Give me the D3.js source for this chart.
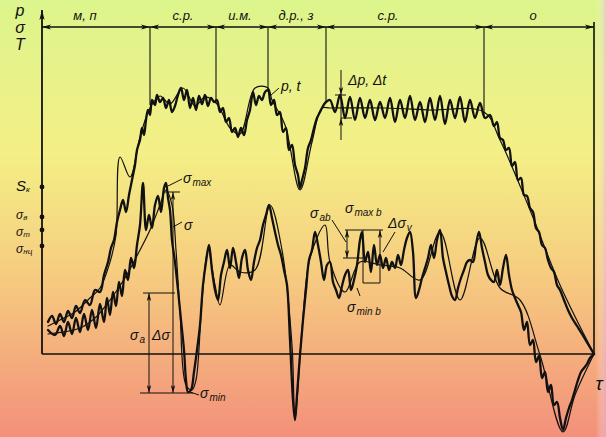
<!DOCTYPE html>
<html>
<head>
<meta charset="utf-8">
<script src="https://cdn.jsdelivr.net/npm/d3@7"></script>
<style>
  body { margin: 0; }
  svg { display: block; }
  text { font-family: "Liberation Sans", Arial, sans-serif; font-style: italic; fill: #111; }
</style>
</head>
<body>
<div id="chart"></div>
<script>
// ---- data (tau, value) ----
const phaseBounds = [0, 108, 174, 226, 284, 442, 552];
const phaseLabels = ['м, п', 'с.р.', 'и.м.', 'д.р., з', 'с.р.', 'о'];
const phaseLabelAt = [43, 141, 198, 254, 346, 491];
const phaseLineEnd = [null, 249, 251, 262, 251, 236, 0];

const levelNames = ['S', 'σ', 'σ', 'σ'];
const levelSubs = ['к', 'в', 'т', 'нц'];
const levelValues = [167, 137, 124, 108];

// p, t curve (thick pen)
const pMain = [[6,32],[10,38],[14,30],[18,40],[22,32],[26,43],[30,36],[34,48],[38,41],[43,54],[48,49],[53,64],[58,62],
  [62,79],[66,92],[69,106],[72,114],[75,132],[78,144],[81,154],[84,142],[87,159],[90,174],[93,189],[95,204],[98,214],
  [100,226],[102,219],[104,234],[106,244],[108,239],[110,254],[113,249],[115,259],[118,252],[121,256],[124,246],[127,254],
  [130,242],[133,248],[136,259],[139,266],[142,254],[145,264],[148,246],[151,256],[154,244],[157,258],[160,250],[163,259],
  [166,248],[169,256],[172,252],[175,254],[178,242],[181,246],[184,232],[187,236],[190,222],[193,226],[196,217],[199,226],
  [202,219],[205,234],[208,244],[211,262],[214,249],[217,258],[220,254],[223,262],[226,264],[229,249],[232,254],[235,239],
  [238,242],[241,222],[244,226],[247,204],[250,209],[253,189],[256,179],[258,166],[260,174],[263,186],[266,206],[269,214],
  [272,226],[275,236],[278,242],[281,248],[284,252],[288,254],[293,242],[298,259],[303,236],[308,257],[313,234],[318,256],
  [323,236],[328,254],[333,234],[338,252],[343,236],[348,256],[353,232],[358,254],[363,236],[368,258],[373,234],[378,252],
  [383,232],[388,256],[393,234],[398,258],[403,230],[408,254],[413,236],[418,257],[423,232],[428,254],[433,236],[438,251],
  [443,236],[448,239],[452,228],[455,232],[458,216],[461,214],[464,204],[467,206],[470,188],[473,192],[476,174],[479,176],
  [482,159],[485,158],[488,146],[491,142],[494,126],[497,122],[500,109],[503,106],[506,94],[509,86],[512,82],[515,69],
  [518,64],[522,54],[526,44],[530,36],[535,28],[540,20],[546,10],[552,0]];

// p, t curve (thin pen)
const pAlt = [[6,28],[18,34],[33,42],[48,56],[58,66],[68,92],[74,119],[78,197],[88,177],[98,217],[108,246],[118,258],
  [128,250],[141,266],[153,248],[163,257],[175,250],[188,226],[198,220],[213,266],[226,266],[230,254],[243,229],[258,164],
  [270,212],[280,246],[288,246],[343,246],[388,244],[442,242],[458,214],[488,144],[518,69],[552,0]];

// sigma curve (thick pen)
const sMain = [[6,24],[13,19],[18,28],[22,18],[26,32],[30,20],[34,36],[38,22],[42,40],[46,24],[50,44],[54,26],[58,50],
  [62,32],[65,56],[68,39],[71,62],[74,48],[77,72],[80,58],[83,84],[86,74],[89,96],[92,86],[95,109],[98,129],[101,171],
  [104,124],[107,139],[110,126],[113,149],[116,158],[119,142],[122,166],[124,171],[126,156],[128,144],[130,114],[133,92],
  [136,64],[139,34],[142,4],[144,-26],[146,-38],[149,-36],[152,-18],[155,4],[158,29],[161,69],[164,92],[167,109],[170,84],
  [173,64],[176,54],[179,79],[182,92],[185,104],[188,86],[191,106],[194,92],[197,76],[200,96],[203,104],[206,84],[209,74],
  [212,92],[215,106],[218,114],[221,129],[224,139],[227,149],[230,136],[233,122],[236,109],[239,99],[242,84],[245,69],
  [248,14],[251,-46],[253,-66],[255,-41],[258,-1],[261,34],[264,64],[267,94],[270,104],[273,122],[276,109],[279,92],
  [282,74],[285,89],[288,92],[291,72],[294,64],[297,56],[300,68],[303,79],[306,84],[309,64],[312,74],[315,89],[318,114],
  [320,122],[323,92],[326,102],[329,82],[332,109],[335,89],[338,99],[341,86],[344,96],[347,84],[350,92],[353,86],[356,99],
  [359,89],[362,104],[365,116],[368,122],[371,102],[374,56],[377,64],[380,76],[383,86],[386,96],[389,109],[392,96],
  [395,114],[398,124],[401,96],[404,82],[407,69],[410,58],[413,54],[416,66],[419,76],[422,84],[425,92],[428,94],[431,92],
  [434,109],[437,122],[440,106],[443,92],[446,79],[449,74],[452,72],[455,84],[458,69],[461,86],[464,99],[467,79],[470,64],
  [473,56],[476,49],[479,42],[482,24],[485,32],[488,9],[491,14],[494,-8],[497,-2],[500,-24],[503,-18],[506,-38],[509,-31],
  [512,-51],[515,-48],[518,-64],[521,-76],[524,-64],[527,-54],[530,-46],[533,-36],[536,-26],[539,-18],[542,-14],[545,-10],
  [548,-4],[552,0]];

// sigma curve (thin pen)
const sAlt = [[6,20],[38,26],[53,36],[68,54],[83,76],[98,104],[108,124],[118,149],[124,164],[130,149],[134,104],[138,42],
  [144,-31],[150,-36],[154,-26],[160,54],[166,104],[173,69],[178,49],[188,89],[198,82],[213,84],[228,149],[240,104],
  [250,9],[253,-66],[260,24],[268,96],[283,129],[288,92],[303,62],[318,92],[338,89],[358,86],[378,74],[398,122],[418,54],
  [438,116],[458,66],[478,54],[498,-1],[521,-78],[533,-41],[552,0]];

// annotation guide lines, arrow tips and labels
const guideLines = [
  [[126,168],[140,175]], [[123,162],[138,162]], [[131,162],[131,-39]], [[107,61],[107,-39]],
  [[101,61],[133,61]], [[98,-39],[151,-39]], [[148,-38],[157,-41]], [[131,127],[140,132]],
  [[228,258],[237,266]], [[299,284],[299,214]], [[293,259],[304,259]], [[299,236],[310,236]],
  [[290,134],[304,112]], [[303,124],[341,124]], [[305,124],[305,96]], [[301,96],[321,96]],
  [[321,124],[321,71]], [[338,124],[338,71]], [[321,71],[338,71]], [[353,122],[341,102]], [[318,58],[315,66]]
];
const guideArrows = [[131,162,-90],[131,-39,90],[107,61,-90],[107,-39,90],[299,259,90],[299,236,-90],
  [305,124,-90],[305,96,90],[338,124,-90]];
const notes = [
  {t: 'σ', s: 'max', at: [141,171]}, {t: 'σ', s: '', at: [142,124]}, {t: 'σ', s: 'a', at: [88,14]},
  {t: 'Δσ', s: '', at: [110,14]}, {t: 'σ', s: 'min', at: [158,-44]}, {t: 'p, t', s: '', at: [239,263]},
  {t: 'Δp, Δt', s: '', at: [306,269]}, {t: 'σ', s: 'ab', at: [268,136]}, {t: 'σ', s: 'max b', at: [303,141]},
  {t: 'Δσ', s: 'v', at: [346,126]}, {t: 'σ', s: 'min b', at: [305,42]}
];

// ---- chart ----
const width = 606, height = 437;
const x = d3.scaleLinear().domain([0, 552]).range([42, 594]);
const y = d3.scaleLinear().domain([0, 327]).range([354, 27]);

const svg = d3.select('#chart').append('svg')
  .attr('width', width).attr('height', height);

const defs = svg.append('defs');
const bg = defs.append('linearGradient').attr('id', 'bg')
  .attr('x1', 0).attr('y1', 0).attr('x2', 0).attr('y2', 1);
bg.append('stop').attr('offset', '0%').attr('stop-color', '#dcf58c');
bg.append('stop').attr('offset', '35%').attr('stop-color', '#f4ef86');
bg.append('stop').attr('offset', '62%').attr('stop-color', '#f6cd80');
bg.append('stop').attr('offset', '100%').attr('stop-color', '#f3907a');
const edge = defs.append('linearGradient').attr('id', 'edge');
edge.append('stop').attr('offset', '0%').attr('stop-color', '#ffffff').attr('stop-opacity', 0);
edge.append('stop').attr('offset', '100%').attr('stop-color', '#e8b0d8').attr('stop-opacity', 0.6);

svg.append('rect').attr('width', width).attr('height', height).attr('fill', 'url(#bg)');
svg.append('rect').attr('x', 596).attr('width', 10).attr('height', height).attr('fill', 'url(#edge)');

const ink = '#111';

function arrow(tx, ty, deg, len = 9, half = 2.4) {
  const a = deg * Math.PI / 180, c = Math.cos(a), s = Math.sin(a);
  const bx = tx - len * c, by = ty - len * s;
  svg.append('path')
    .attr('d', `M${tx},${ty}L${bx - half * s},${by + half * c}L${bx + len * 0.25 * c},${by + len * 0.25 * s}L${bx + half * s},${by - half * c}Z`)
    .attr('fill', ink);
}

// axes frame
svg.append('line').attr('x1', x(0)).attr('x2', x(0)).attr('y1', y(344)).attr('y2', y(0))
  .attr('stroke', ink).attr('stroke-width', 1.8);
arrow(x(0), y(344), -90, 10, 2.6);
svg.append('line').attr('x1', x(0)).attr('x2', x(552)).attr('y1', y(0)).attr('y2', y(0))
  .attr('stroke', ink).attr('stroke-width', 1.4);

// phase dimension line
svg.append('line').attr('x1', x(0)).attr('x2', x(552)).attr('y1', y(327)).attr('y2', y(327))
  .attr('stroke', ink).attr('stroke-width', 1.4);
phaseBounds.forEach((b, i) => {
  if (i > 0) arrow(x(b), y(327), 0);
  if (i < phaseBounds.length - 1) arrow(x(b), y(327), 180);
  if (phaseLineEnd[i] !== null) {
    svg.append('line').attr('x1', x(b)).attr('x2', x(b)).attr('y1', y(i === phaseBounds.length - 1 ? 332 : 327))
      .attr('y2', y(phaseLineEnd[i])).attr('stroke', ink).attr('stroke-width', i === phaseBounds.length - 1 ? 1.6 : 1.1);
  }
});
svg.selectAll('text.phase').data(phaseLabels).enter().append('text')
  .attr('class', 'phase')
  .attr('x', (d, i) => x(phaseLabelAt[i])).attr('y', y(334))
  .attr('text-anchor', 'middle').attr('font-size', 13)
  .text(d => d);

// axis titles
['p', 'σ', 'Т'].forEach((t, i) => {
  svg.append('text').attr('x', x(-22)).attr('y', y([338, 321, 304][i]))
    .attr('text-anchor', 'middle').attr('font-size', 16).text(t);
});
svg.append('text').attr('x', x(557)).attr('y', y(-36)).attr('text-anchor', 'middle')
  .attr('font-size', 19).text('τ');

// strength levels on the axis
const levelShift = [4, 2, 6, 7];
levelValues.forEach((v, i) => {
  svg.append('circle').attr('cx', x(0)).attr('cy', y(v)).attr('r', 2.4).attr('fill', ink);
  const t = svg.append('text').attr('x', x(-26)).attr('y', y(v) + levelShift[i]).attr('font-size', i === 0 ? 15 : 12);
  t.append('tspan').text(levelNames[i]);
  t.append('tspan').attr('font-size', 8).attr('dy', 1).text(levelSubs[i]);
});

// curves
const line = d3.line().x(d => x(d[0])).y(d => y(d[1])).curve(d3.curveCatmullRom.alpha(0.5));
const curves = [
  {d: pAlt, w: 1.2}, {d: sAlt, w: 1.2}, {d: pMain, w: 2.3}, {d: sMain, w: 2.3}
];
svg.selectAll('path.curve').data(curves).enter().append('path')
  .attr('class', 'curve')
  .attr('d', d => line(d.d))
  .attr('fill', 'none').attr('stroke', ink)
  .attr('stroke-width', d => d.w)
  .attr('stroke-linejoin', 'round').attr('stroke-linecap', 'round');

// annotations
svg.selectAll('line.guide').data(guideLines).enter().append('line')
  .attr('class', 'guide')
  .attr('x1', d => x(d[0][0])).attr('y1', d => y(d[0][1]))
  .attr('x2', d => x(d[1][0])).attr('y2', d => y(d[1][1]))
  .attr('stroke', ink).attr('stroke-width', 1);
guideArrows.forEach(a => arrow(x(a[0]), y(a[1]), a[2], 8, 2.2));

notes.forEach(n => {
  const t = svg.append('text').attr('x', x(n.at[0])).attr('y', y(n.at[1])).attr('font-size', 14);
  t.append('tspan').text(n.t);
  if (n.s) t.append('tspan').attr('font-size', 10).attr('dy', 3).attr('dx', 1).text(n.s);
});
</script>
</body>
</html>
